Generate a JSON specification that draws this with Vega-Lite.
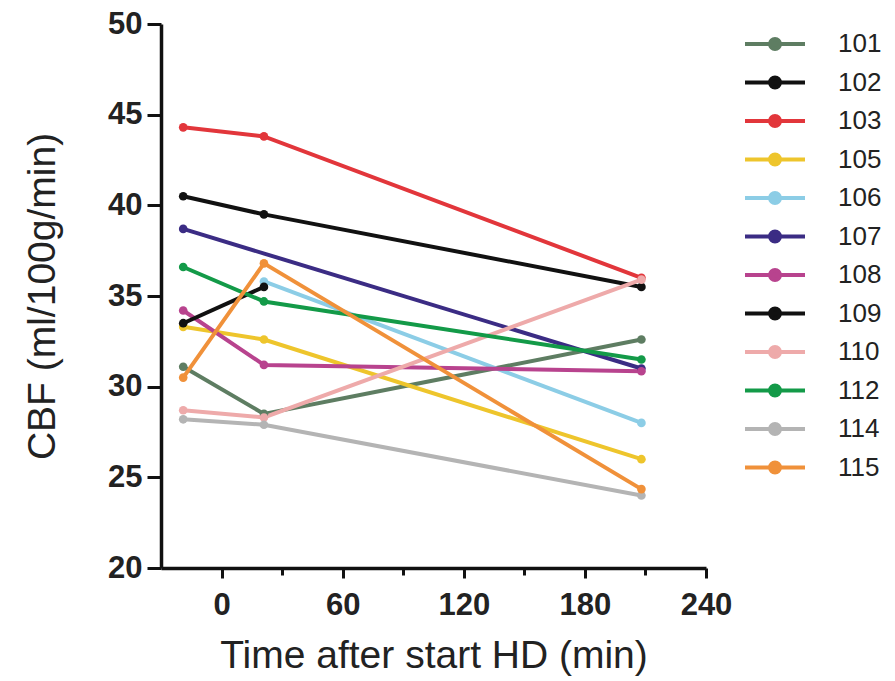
{
  "$schema": "https://vega.github.io/schema/vega-lite/v6.json",
  "width": 545,
  "height": 544,
  "autosize": {"type": "none"},
  "padding": {"left": 161, "top": 24, "right": 189, "bottom": 113},
  "background": "white",
  "config": {"view": {"stroke": null}, "font": "Liberation Sans"},
  "data": {
    "values": [
      {"patient": "101", "time": -19, "cbf": 31.1},
      {"patient": "101", "time": 21, "cbf": 28.5},
      {"patient": "101", "time": 208, "cbf": 32.6},
      {"patient": "102", "time": -19, "cbf": 40.5},
      {"patient": "102", "time": 21, "cbf": 39.5},
      {"patient": "102", "time": 208, "cbf": 35.5},
      {"patient": "103", "time": -19, "cbf": 44.3},
      {"patient": "103", "time": 21, "cbf": 43.8},
      {"patient": "103", "time": 208, "cbf": 36.0},
      {"patient": "105", "time": -19, "cbf": 33.3},
      {"patient": "105", "time": 21, "cbf": 32.6},
      {"patient": "105", "time": 208, "cbf": 26.0},
      {"patient": "106", "time": 21, "cbf": 35.8},
      {"patient": "106", "time": 208, "cbf": 28.0},
      {"patient": "107", "time": -19, "cbf": 38.7},
      {"patient": "107", "time": 208, "cbf": 31.0},
      {"patient": "108", "time": -19, "cbf": 34.2},
      {"patient": "108", "time": 21, "cbf": 31.2},
      {"patient": "108", "time": 208, "cbf": 30.85},
      {"patient": "109", "time": -19, "cbf": 33.5},
      {"patient": "109", "time": 21, "cbf": 35.5},
      {"patient": "110", "time": -19, "cbf": 28.7},
      {"patient": "110", "time": 21, "cbf": 28.3},
      {"patient": "110", "time": 208, "cbf": 35.9},
      {"patient": "112", "time": -19, "cbf": 36.6},
      {"patient": "112", "time": 21, "cbf": 34.7},
      {"patient": "112", "time": 208, "cbf": 31.5},
      {"patient": "114", "time": -19, "cbf": 28.2},
      {"patient": "114", "time": 21, "cbf": 27.9},
      {"patient": "114", "time": 208, "cbf": 24.0},
      {"patient": "115", "time": -19, "cbf": 30.5},
      {"patient": "115", "time": 21, "cbf": 36.8},
      {"patient": "115", "time": 208, "cbf": 24.35}
    ]
  },
  "mark": {"type": "line", "strokeWidth": 4, "point": {"filled": true, "size": 75}},
  "encoding": {
    "x": {
      "field": "time",
      "type": "quantitative",
      "scale": {"domain": [-30, 240], "nice": false, "zero": false},
      "axis": {
        "values": [0, 30, 60, 90, 120, 150, 180, 210, 240],
        "labelExpr": "datum.value % 60 === 0 ? datum.label : ''",
        "tickSize": {"condition": {"test": "datum.value % 60 === 0", "value": 10}, "value": 7},
        "grid": false,
        "domainColor": "#111111",
        "domainWidth": 3.5,
        "tickColor": "#111111",
        "tickWidth": 3,
        "labelFontSize": 31,
        "labelFontWeight": "bold",
        "labelColor": "#222222",
        "labelPadding": 12,
        "labelFlush": false,
        "labelOverlap": false,
        "title": "Time after start HD (min)",
        "titleFontSize": 39,
        "titleFontWeight": "normal",
        "titleColor": "#222222",
        "titlePadding": 16
      }
    },
    "y": {
      "field": "cbf",
      "type": "quantitative",
      "scale": {"domain": [20, 50], "nice": false, "zero": false},
      "axis": {
        "values": [20, 25, 30, 35, 40, 45, 50],
        "grid": false,
        "tickSize": 14,
        "domainColor": "#111111",
        "domainWidth": 3.5,
        "tickColor": "#111111",
        "tickWidth": 3,
        "labelFontSize": 31,
        "labelFontWeight": "bold",
        "labelColor": "#222222",
        "labelPadding": 5,
        "labelFlush": false,
        "labelOverlap": false,
        "title": "CBF (ml/100g/min)",
        "titleFontSize": 39,
        "titleFontWeight": "normal",
        "titleColor": "#222222",
        "titlePadding": 45
      }
    },
    "color": {
      "field": "patient",
      "type": "nominal",
      "scale": {
        "domain": ["101", "102", "103", "105", "106", "107", "108", "109", "110", "112", "114", "115"],
        "range": ["#5e7d62", "#111111", "#e2363b", "#eec52c", "#8ccde6", "#3b2c84", "#b8438e", "#111111", "#eeaaaa", "#139a48", "#b4b4b4", "#f0913a"]
      },
      "legend": {
        "title": null,
        "orient": "none",
        "legendX": 597,
        "legendY": 3,
        "padding": 0,
        "symbolType": "M-2,0H2M-0.33,0A0.33,0.33,0,1,0,0.33,0A0.33,0.33,0,1,0,-0.33,0Z",
        "symbolSize": 900,
        "symbolStrokeWidth": 4,
        "labelFontSize": 26,
        "labelColor": "#222222",
        "labelOffset": 46,
        "rowPadding": 8.5,
        "encode": {
          "symbols": {
            "update": {
              "fill": {"scale": "color", "field": "value"},
              "stroke": {"scale": "color", "field": "value"},
              "strokeWidth": {"value": 4},
              "opacity": {"value": 1}
            }
          }
        }
      }
    }
  }
}
